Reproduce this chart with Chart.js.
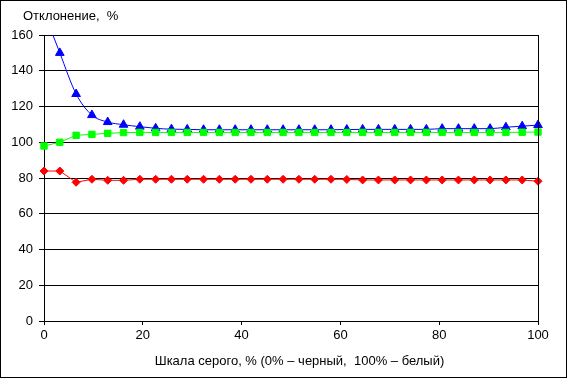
<!DOCTYPE html>
<html>
<head>
<meta charset="utf-8">
<script src="https://cdn.jsdelivr.net/npm/chart.js@4"></script>
<style>
  html, body { margin: 0; padding: 0; background: #fff; overflow: hidden; }
  #wrap { width: 567px; height: 378px; }
</style>
</head>
<body>
<div id="wrap"><canvas id="grafico" width="567" height="378"></canvas></div>
<script>
// шкала серого, % (32 точки)
const grayLevels = [0, 3.2, 6.5, 9.7, 12.9, 16.1, 19.4, 22.6, 25.8, 29.0, 32.3, 35.5, 38.7, 41.9, 45.2, 48.4,
    51.6, 54.8, 58.1, 61.3, 64.5, 67.7, 71.0, 74.2, 77.4, 80.6, 83.9, 87.1, 90.3, 93.5, 96.8, 100];

const blueValues = [173, 150, 127, 115.2, 111.3, 109.8, 108.7, 107.8, 107.3, 107.2, 107, 107, 107, 107, 107, 107,
    107, 107, 107, 107.1, 107.2, 107.2, 107.2, 107.2, 107.2, 107.6, 107.6, 107.6, 107.6, 108.4, 109, 109.6];

const greenValues = [97.9, 100, 103.9, 104.4, 105, 105.4, 105.5, 105.5, 105.5, 105.5, 105.5, 105.5, 105.5, 105.5, 105.5, 105.5,
    105.5, 105.5, 105.5, 105.5, 105.5, 105.5, 105.5, 105.5, 105.5, 105.5, 105.5, 105.5, 105.5, 105.5, 105.6, 105.7];

const redValues = [83.9, 83.9, 77.6, 79.3, 78.7, 78.7, 79.3, 79.3, 79.3, 79.3, 79.3, 79.3, 79.3, 79.3, 79.3, 79.3,
    79.3, 79.3, 79.3, 79.2, 78.9, 78.9, 78.9, 78.9, 78.9, 78.9, 78.9, 78.9, 78.9, 78.9, 78.9, 78.2];

const yTitle = 'Отклонение,  %';
const xTitle = 'Шкала серого, % (0% – черный,  100% – белый)';

function pontos(values) {
    return values.map((v, i) => ({ x: grayLevels[i], y: v }));
}

Chart.defaults.font.family = 'Arial, "Liberation Sans", sans-serif';
Chart.defaults.font.size = 13;
Chart.defaults.color = '#000';

// moldura, borda direita e títulos dos eixos
const molduraPlugin = {
    id: 'moldura',
    afterDraw(chart) {
        const ctx = chart.ctx;
        const area = chart.chartArea;
        ctx.save();
        ctx.strokeStyle = '#000';
        ctx.lineWidth = 1;
        ctx.strokeRect(0.5, 0.5, chart.width - 1, chart.height - 1);
        ctx.beginPath();
        ctx.moveTo(Math.round(area.right) + 0.5, area.top);
        ctx.lineTo(Math.round(area.right) + 0.5, area.bottom);
        ctx.stroke();
        ctx.fillStyle = '#000';
        ctx.font = '13px Arial, "Liberation Sans", sans-serif';
        ctx.textBaseline = 'alphabetic';
        ctx.textAlign = 'left';
        ctx.fillText(yTitle, 23, 20);
        ctx.textAlign = 'center';
        ctx.fillText(xTitle, chart.width / 2 + 16, 365);
        ctx.restore();
    }
};

const ctx = document.getElementById('grafico');

new Chart(ctx, {
    type: 'line',
    data: {
        datasets: [
            {
                data: pontos(redValues),
                borderColor: '#ff0000',
                backgroundColor: '#ff0000',
                borderWidth: 1,
                pointStyle: 'rectRot',
                pointRadius: 4,
                clip: { left: 10, right: 10, top: 0, bottom: 10 }
            },
            {
                data: pontos(greenValues),
                borderColor: '#00ff00',
                backgroundColor: '#00ff00',
                borderWidth: 1,
                pointStyle: 'rect',
                pointRadius: 4.5,
                clip: { left: 10, right: 10, top: 0, bottom: 10 }
            },
            {
                data: pontos(blueValues),
                borderColor: '#0000ff',
                backgroundColor: '#0000ff',
                borderWidth: 1,
                pointStyle: 'triangle',
                pointRadius: 5,
                cubicInterpolationMode: 'monotone',
                clip: { left: 10, right: 10, top: 0, bottom: 10 }
            }
        ]
    },
    options: {
        responsive: false,
        animation: false,
        layout: {
            padding: { left: 0, right: 29, top: 35, bottom: 0 }
        },
        plugins: {
            legend: { display: false },
            tooltip: { enabled: false }
        },
        scales: {
            x: {
                type: 'linear',
                min: 0,
                max: 100,
                ticks: { stepSize: 20, padding: 3, maxRotation: 0 },
                grid: { drawOnChartArea: false, drawTicks: true, tickLength: 4, color: '#000' },
                border: { display: true, color: '#000', width: 1 },
                afterFit(scale) { scale.height = 57; }
            },
            y: {
                min: 0,
                max: 160,
                ticks: { stepSize: 20, padding: 6 },
                grid: { color: '#000', tickLength: 5 },
                border: { display: true, color: '#000', width: 1 },
                afterFit(scale) { scale.width = 44; }
            }
        }
    },
    plugins: [molduraPlugin]
});
</script>
</body>
</html>
